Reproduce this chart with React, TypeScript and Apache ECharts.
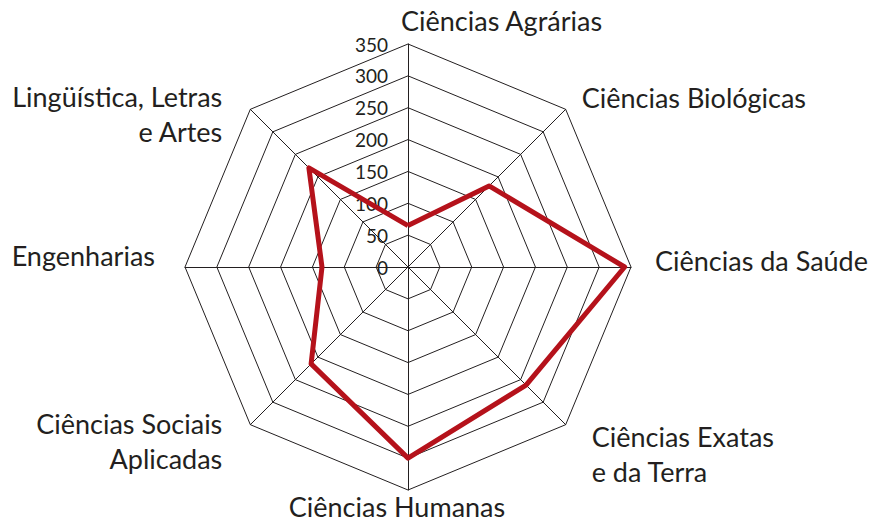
import React, { useEffect, useRef } from "react";
import * as echarts from "echarts";

const categories = [
  "Ciências Agrárias",
  "Lingüística, Letras\ne Artes",
  "Engenharias",
  "Ciências Sociais\nAplicadas",
  "Ciências Humanas",
  "Ciências Exatas\ne da Terra",
  "Ciências da Saúde",
  "Ciências Biológicas",
];
const values = [65, 220, 135, 215, 300, 262, 340, 180];
const maxValue = 350;
const tickStep = 50;

const FONT = "Lato";

// name placement per indicator: [align, padding [top, right, bottom, left], lineHeight] (verticalAlign: top)
const nameLayout: [string, number[], number][] = [
  ["left", [-41, 0, 0, -7], 35],
  ["right", [-30, 28, 0, 0], 35],
  ["right", [-29, 30, 0, 0], 35],
  ["right", [-19, 28, 0, 0], 35],
  ["center", [3, 22, 0, 0], 26],
  ["left", [-6, 0, 0, 26], 35],
  ["left", [-24.5, 0, 0, 24], 35],
  ["left", [-29, 0, 0, 16], 35],
];

export default function App() {
  const ref = useRef<HTMLDivElement>(null);
  useEffect(() => {
    if (!ref.current) return;
    const chart = echarts.init(ref.current, undefined, { renderer: "svg" });
    chart.setOption({
      animation: false,
      backgroundColor: "#ffffff",
      radar: {
        center: [408, 267],
        radius: 223,
        startAngle: 90,
        shape: "polygon",
        splitNumber: maxValue / tickStep,
        nameGap: 0,
        axisName: { color: "#231f20", fontSize: 27, fontFamily: FONT, lineHeight: 35 },
        indicator: categories.map((name, i) => ({
          name,
          min: 0,
          max: maxValue,
          axisLabel: { show: i === 0 },
          nameTextStyle: {
            align: nameLayout[i][0],
            verticalAlign: "top",
            padding: nameLayout[i][1],
            lineHeight: nameLayout[i][2],
          },
        })),
        splitLine: { lineStyle: { color: "#231f20", width: 1 } },
        splitArea: { show: false },
        axisLine: { lineStyle: { color: "#231f20", width: 1 } },
        axisTick: { show: false },
        axisLabel: {
          show: true,
          color: "#231f20",
          fontSize: 19,
          fontFamily: FONT,
          margin: 20,
        },
      },
      series: [
        {
          type: "radar",
          symbol: "none",
          lineStyle: { color: "#b5121b", width: 5 },
          data: [{ value: values }],
        },
      ],
    });
    return () => chart.dispose();
  }, []);
  return (
    <div
      ref={ref}
      style={{ position: "fixed", left: 0, top: 0, width: 871, height: 521, background: "#fff" }}
    />
  );
}
